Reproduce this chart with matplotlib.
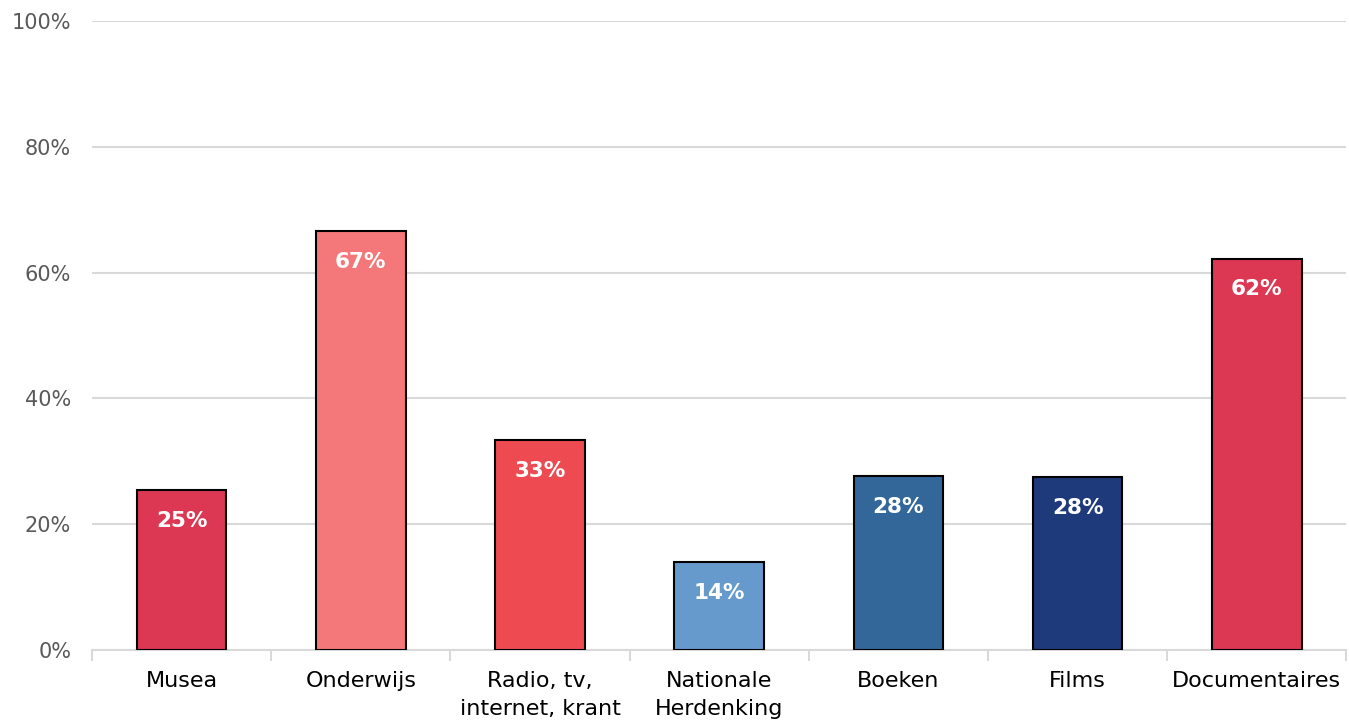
import numpy as np
import matplotlib
matplotlib.use("Agg")
import matplotlib.pyplot as plt

categories = ["Musea", "Onderwijs", "Radio, tv,\ninternet, krant", "Nationale\nHerdenking",
              "Boeken", "Films", "Documentaires"]
values = [25.4, 66.6, 33.4, 14.0, 27.7, 27.5, 62.2]
bar_labels = ["25%", "67%", "33%", "14%", "28%", "28%", "62%"]
colors = ["#DC3753", "#F47879", "#EE4A52", "#6699CC", "#336699", "#1F3A7A", "#DC3753"]
y_ticks = [0, 20, 40, 60, 80, 100]

plt.rcParams['font.family'] = ['DejaVu Sans']

fig = plt.figure(figsize=(13.49, 7.22), dpi=100)
ax = fig.add_axes([0.0682, 0.0997, 0.9298, 0.8713])

x = np.arange(len(categories))
ax.bar(x, values, width=0.5, color=colors, edgecolor="black", linewidth=1.5, zorder=3)

for xi, v, lab in zip(x, values, bar_labels):
    ax.text(xi, v - 3.3, lab, ha="center", va="top", color="white",
            fontsize=15.5, fontweight="bold", zorder=4)

ax.set_xlim(-0.5, len(categories) - 0.5)
ax.set_ylim(0, 100)
ax.set_yticks(y_ticks)
ax.set_yticklabels([f"{t}%" for t in y_ticks], color="#595959", fontsize=15)
ax.yaxis.grid(True, color="#D9D9D9", linewidth=1.5, zorder=0)
ax.tick_params(axis="y", length=0, pad=15)

ax.set_xticks(x)
ax.set_xticklabels(categories, fontsize=16, color="black", linespacing=1.5)
ax.tick_params(axis="x", length=0, pad=15)
# category separators
ax.set_xticks(np.arange(len(categories) + 1) - 0.5, minor=True)
ax.tick_params(axis="x", which="minor", length=8, width=1.5, color="#D9D9D9")

for s in ["top", "right", "left"]:
    ax.spines[s].set_visible(False)
ax.spines["bottom"].set_color("#D9D9D9")
ax.spines["bottom"].set_linewidth(1.5)

fig.savefig("out.png", dpi=100)
